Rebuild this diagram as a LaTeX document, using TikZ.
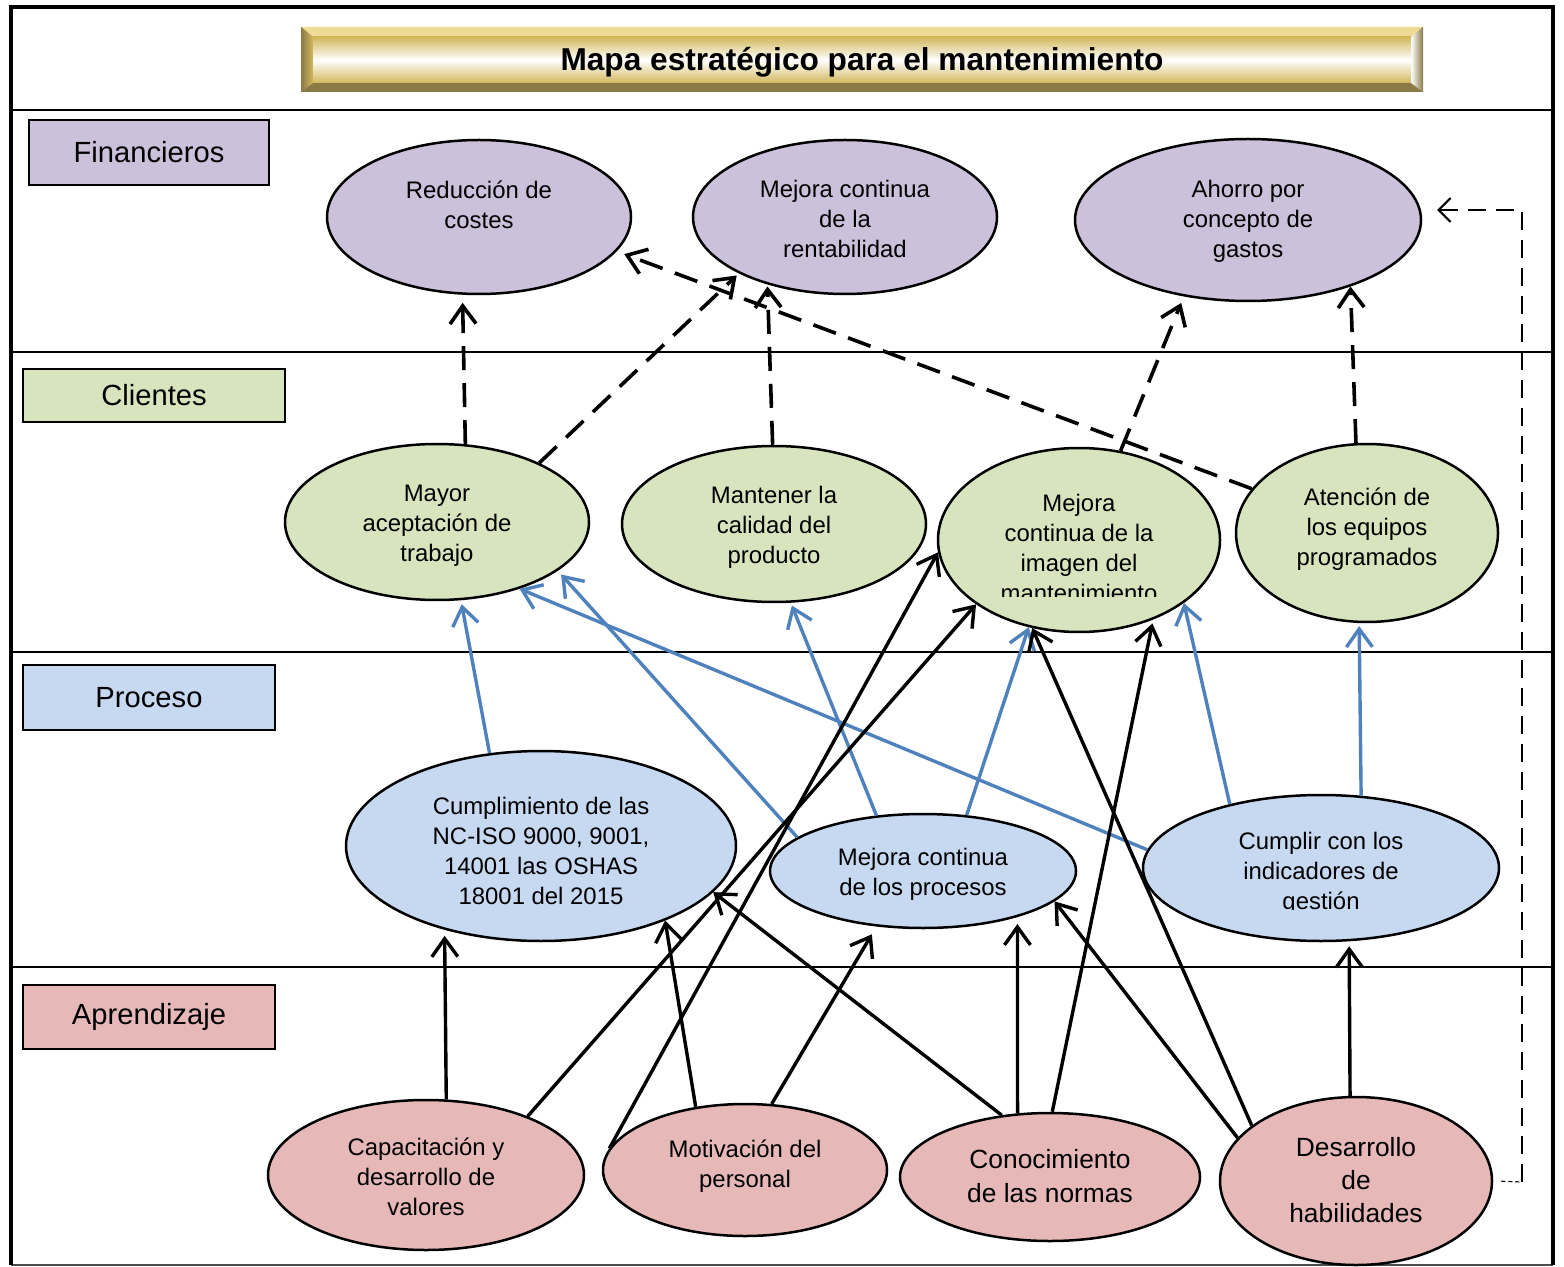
\documentclass[tikz,border=0pt]{standalone}
\usepackage{fontspec}
\setmainfont{Liberation Sans}
\usetikzlibrary{shapes.geometric,arrows.meta}
\definecolor{purp}{HTML}{CCC1DA}
\definecolor{grn}{HTML}{D7E4BD}
\definecolor{blu}{HTML}{C6D9F1}
\definecolor{pnk}{HTML}{E6B9B8}
\definecolor{arrblue}{HTML}{4F81BD}
\definecolor{golddark}{HTML}{9C8230}
\definecolor{goldmid}{HTML}{D2B85C}
\definecolor{goldlight}{HTML}{EEDC96}
\definecolor{goldgrey}{HTML}{8A7A48}
\tikzset{
  ell/.style 2 args={ellipse, draw, line width=0.25mm, minimum width=#1*0.2mm, minimum height=#2*0.2mm, inner sep=0pt},
  txt/.style={align=center, inner sep=0pt, yshift=-0.2mm, font=\fontsize{6.8}{8.5}\selectfont},
  bigtxt/.style={align=center, inner sep=0pt, font=\fontsize{7.5}{9.5}\selectfont},
  lab/.style={draw, line width=0.2mm, inner sep=0pt, font=\fontsize{8.3}{10}\selectfont},
  tipb/.style={-{Straight Barb[length=1.8mm,width=2.6mm]}},
  dasharr/.style={line width=0.36mm, dash pattern=on 2.4mm off 1.3mm, tipb},
  bluarr/.style={draw=arrblue, line width=0.34mm, tipb},
  blkarr/.style={line width=0.34mm, tipb},
  sep/.style={line width=0.2mm}
}
\begin{document}
\begin{tikzpicture}[x=0.1mm,y=-0.1mm]
\useasboundingbox (0,0) rectangle (1564,1267);
% frame and separators
\draw[sep] (11,110) -- (1553,110);
\draw[sep] (11,352) -- (1553,352);
\draw[sep] (11,652) -- (1553,652);
\draw[sep] (11,967) -- (1553,967);
\draw[line width=0.2mm, black!70] (11,1265) -- (1553,1265);
\draw[line width=0.45mm] (11,1265) -- (11,7) -- (1553,7) -- (1553,1265);
% title box
\fill[golddark] (301,27) rectangle (1423,92);
\fill[goldlight] (301,27) -- (1423,27) -- (1411,37) -- (313,37) -- cycle;
\fill[goldgrey] (301,92) -- (1423,92) -- (1411,83) -- (313,83) -- cycle;
\shade[left color=goldgrey, right color=goldmid] (301,27) -- (313,37) -- (313,83) -- (301,92) -- cycle;
\shade[left color=white, right color=goldgrey] (1411,37) -- (1423,27) -- (1423,92) -- (1411,83) -- cycle;
\shade[top color=goldmid, bottom color=goldmid, middle color=white] (313,37) rectangle (1411,83);
\node[font=\bfseries\fontsize{9}{11}\selectfont, inner sep=0pt] (title) at (862,62) {Mapa estratégico para el mantenimiento};
% labels
\node[lab, fill=purp, minimum width=240*0.1mm, minimum height=65*0.1mm] (lfin) at (149,152.5) {Financieros};
\node[lab, fill=grn, minimum width=262*0.1mm, minimum height=53*0.1mm] (lcli) at (154,395.5) {Clientes};
\node[lab, fill=blu, minimum width=252*0.1mm, minimum height=65*0.1mm] (lpro) at (149,697.5) {Proceso};
\node[lab, fill=pnk, minimum width=252*0.1mm, minimum height=64*0.1mm] (lapr) at (149,1017) {Aprendizaje};
% financial
\node[ell={152}{77}, fill=purp] (red) at (479,217) {};
\node[txt] (tred) at (479,203) {Reducción de\\costes};
\node[ell={152}{77}, fill=purp] (ren) at (845,217) {};
\node[txt] (tren) at (845,217) {Mejora continua\\de la\\rentabilidad};
\node[ell={173}{81}, fill=purp] (aho) at (1248,220) {};
\node[txt] (taho) at (1248,219) {Ahorro por\\concepto de\\gastos};
% clients
\node[ell={152}{78}, fill=grn] (may) at (437,522) {};
\node[txt] (tmay) at (437,524) {Mayor\\aceptación de\\trabajo};
\node[ell={152}{78}, fill=grn] (man) at (774,524) {};
\node[txt] (tman) at (774,525) {Mantener la\\calidad del\\producto};
\node[ell={141}{92}, fill=grn] (img) at (1079,540) {};
\begin{scope}
\clip (939,449) rectangle (1220,596);
\node[txt] (timg) at (1079,546) {Mejora\\continua de la\\imagen del\\mantenimiento};
\end{scope}
\node[ell={131}{89}, fill=grn] (ate) at (1367,533) {};
\node[txt] (tate) at (1367,527) {Atención de\\los equipos\\programados};
% process
\node[ell={195}{95}, fill=blu] (cum) at (541,846) {};
\node[txt] (tcum) at (541,849) {Cumplimiento de las\\NC-ISO 9000, 9001,\\14001 las OSHAS\\18001 del 2015};
\node[ell={153}{57}, fill=blu] (mej) at (923,871) {};
\node[txt] (tmej) at (923,872.5) {Mejora continua\\de los procesos};
\node[ell={178}{73}, fill=blu] (cpl) at (1321,868) {};
\begin{scope}
\clip (1143,795) rectangle (1500,909);
\node[txt] (tcpl) at (1321,871) {Cumplir con los\\indicadores de\\gestión};
\end{scope}
% learning
\node[ell={158}{75}, fill=pnk] (cap) at (426,1175) {};
\node[txt] (tcap) at (426,1175) {Capacitación y\\desarrollo de\\valores};
\node[ell={142}{66}, fill=pnk] (mot) at (745,1170) {};
\node[txt] (tmot) at (745,1164.5) {Motivación del\\personal};
\node[ell={150}{64}, fill=pnk] (con) at (1050,1177) {};
\node[bigtxt] (tcon) at (1050,1176) {Conocimiento\\de las normas};
\node[ell={136}{84}, fill=pnk] (des) at (1356,1181) {};
\node[bigtxt] (tdes) at (1356,1180) {Desarrollo\\de\\habilidades};
% dashed arrows
\draw[dasharr, shorten >=0.8mm] (may.70) -- (red.258);
\draw[dasharr, shorten >=0.3mm] (may.30.5) -- (ren.208);
\draw[dasharr, shorten >=0.2mm] (man.91.5) -- (ren.221.8);
\draw[dasharr, shorten >=0.8mm] (ate.159.5) -- (red.346);
\draw[dasharr, shorten >=0.7mm] (img.65) -- (aho.230.3);
\draw[dasharr] (ate.97.6) -- (aho.327);
% right dashed return
\coordinate (rc1) at (1522,1182);
\coordinate (rc2) at (1522,210);
\coordinate (rtip) at (1437,210);
\draw[line width=0.12mm, dash pattern=on 0.4mm off 0.3mm, shorten <=0.8mm] (des.east) -- (rc1);
\draw[line width=0.22mm, dash pattern=on 1.8mm off 1mm, -{Straight Barb[length=1.2mm,width=2.4mm]}] (rc1) -- (rc2) -- (rtip);
% blue arrows
\draw[bluarr, shorten >=0.4mm] (cum.119.6) -- (may.287.15);
\draw[bluarr, shorten >=0.5mm] (mej.165.9) -- (may.338.2);
\draw[bluarr] (cpl.174.7) -- (may.321.3);
\draw[bluarr, shorten >=0.3mm] (mej.130) -- (man.282.7);
\draw[bluarr] (mej.52.5) -- (img.240);
\draw[bluarr] (cpl.145) -- (img.329.3);
\draw[bluarr, shorten >=0.3mm] (cpl.61.3) -- (ate.265.5);
% black arrows
\draw[blkarr, shorten >=0.6mm] (cap.75) -- (cum.221.1);
\draw[blkarr] (cap.30.7) -- (img.212.9);
\draw[blkarr] (mot.171.9) -- (img.185.3);
\draw[blkarr] (mot.128.8) -- (cum.329.2);
\draw[blkarr, shorten >=0.9mm] (mot.68.5) -- (mej.230.4);
\draw[blkarr] (con.128.7) -- (cum.345.1);
\draw[blkarr, shorten >=0.7mm] (con.117.1) -- (mej.334.8);
\draw[blkarr, shorten >=0.4mm] (con.88.2) -- (img.313.6);
\draw[blkarr] (des.160.3) -- (mej.347.6);
\draw[blkarr] (des.152.2) -- (img.242.1);
\draw[blkarr, shorten >=0.5mm] (des.94.5) -- (cpl.291.2);
\end{tikzpicture}
\end{document}
